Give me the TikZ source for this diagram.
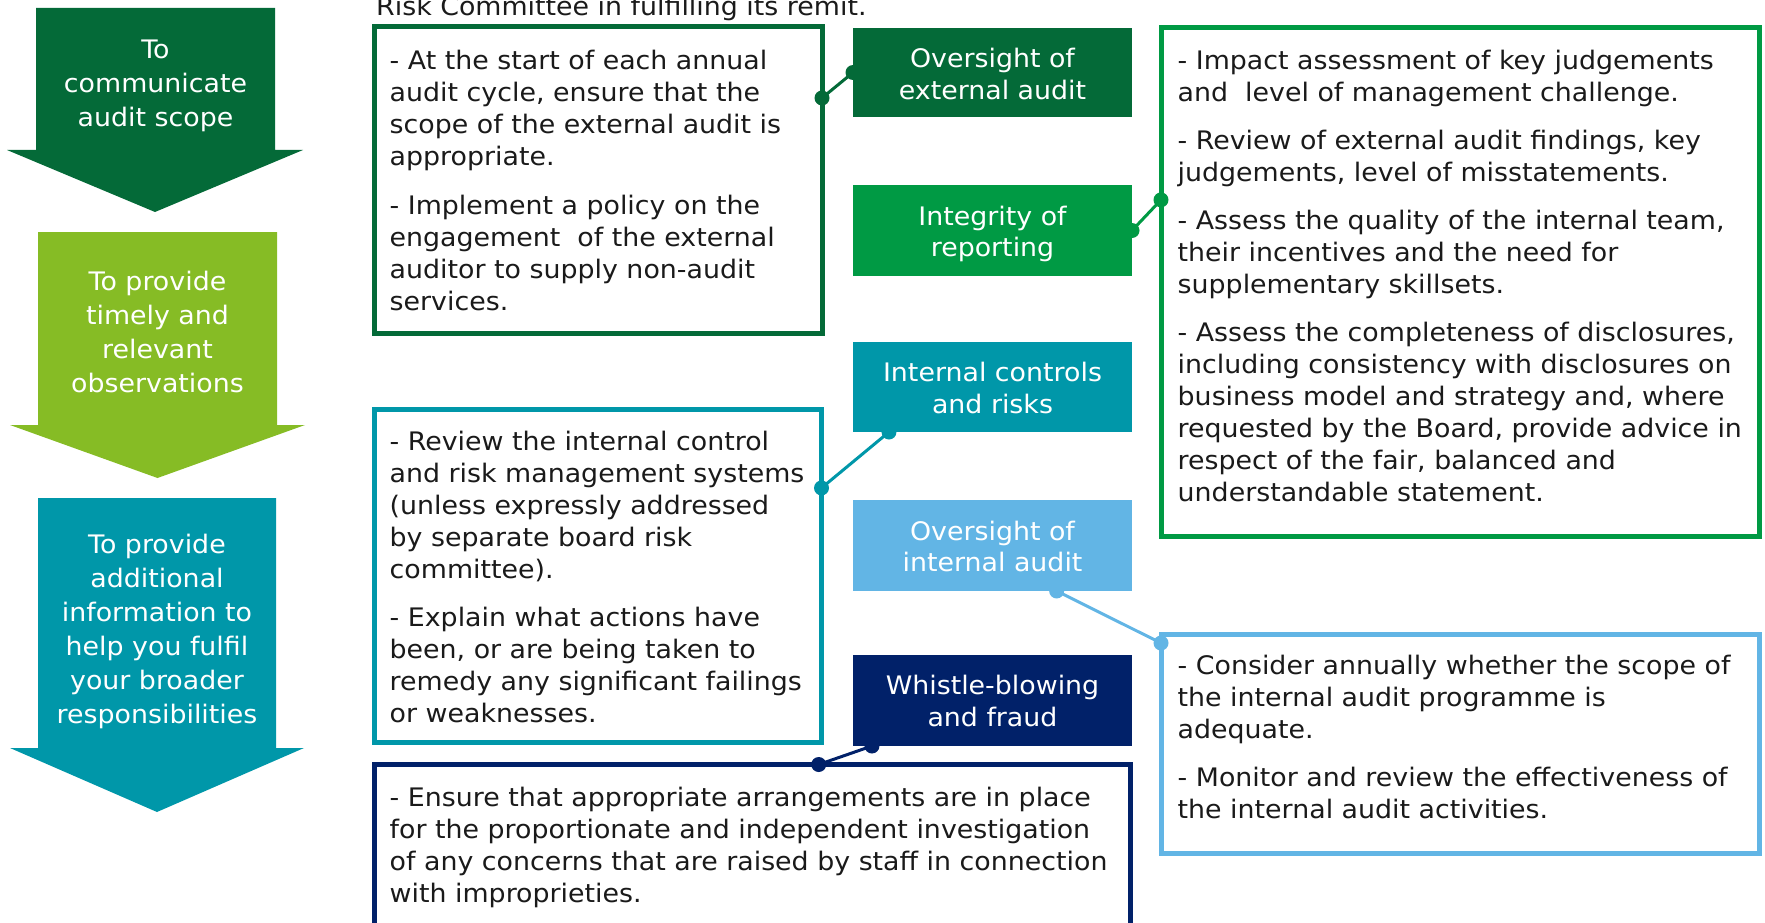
\documentclass[tikz,border=0pt]{standalone}
\usepackage{fontspec}
\setmainfont[FakeStretch=1.052]{DejaVu Sans}
\usetikzlibrary{calc}
\definecolor{dkgreen}{HTML}{046A38}
\definecolor{midgreen}{HTML}{009A44}
\definecolor{ltgreen}{HTML}{86BC25}
\definecolor{teal}{HTML}{0097A9}
\definecolor{ltblue}{HTML}{62B5E5}
\definecolor{navy}{HTML}{012169}
\definecolor{txtblack}{HTML}{1A1A1A}
\newcommand{\fl}{\rule{0pt}{20pt}}
\begin{document}
\begin{tikzpicture}[x=1pt,y=-1pt,
  frame/.style={draw, line width=5pt, fill=white, inner sep=0pt, outer sep=0pt, anchor=north west},
  tag/.style={inner sep=0pt, outer sep=0pt, anchor=north west, minimum width=279pt},
  bodytxt/.style={anchor=north west, inner sep=0pt, align=left, text=txtblack, font=\fontsize{25.5}{32}\selectfont},
  arrowtxt/.style={anchor=north, inner sep=0pt, align=center, text=white, font=\fontsize{25.5}{34}\selectfont},
  tagtxt/.style={anchor=north, inner sep=0pt, align=center, text=white, font=\fontsize{25.5}{31.5}\selectfont},
  link/.style={line width=3pt},
  dot/.style={circle, inner sep=0pt, minimum size=15pt}
]
\useasboundingbox (0,0) rectangle (1765,923);
\clip (0,0) rectangle (1765,923);

% top text (cut off)
\node[anchor=base west, inner sep=0pt, text=txtblack, font=\fontsize{25.5}{32}\selectfont] (intro) at (376,16) {Risk Committee in fulfilling its remit.};

% left arrows
\fill[dkgreen] (36,8) -- (275,8) -- (275,150) -- (303,150) -- (155,212) -- (7,150) -- (36,150) -- cycle;
\fill[ltgreen] (38,232) -- (277,232) -- (277,425) -- (305,425) -- (157.5,478) -- (10,425) -- (38,425) -- cycle;
\fill[teal] (38,498) -- (276,498) -- (276,748) -- (304,748) -- (157,812) -- (10,748) -- (38,748) -- cycle;
\node[arrowtxt] (a1) at (155.5,38.5) {\fl To\\communicate\\audit scope};
\node[arrowtxt] (a2) at (157.5,270) {\fl To provide\\timely and\\relevant\\observations};
\node[arrowtxt] (a3) at (157,533) {\fl To provide\\additional\\information to\\help you fulfil\\your broader\\responsibilities};

% frames
\node[frame, draw=dkgreen, minimum width=447.5pt, minimum height=306pt] (b1) at (374.5,27) {};
\node[frame, draw=teal, minimum width=447pt, minimum height=332.5pt] (b2) at (374.5,409.5) {};
\node[frame, draw=navy, minimum width=755.5pt, minimum height=200pt] (b3) at (374.5,764.5) {};
\node[frame, draw=midgreen, minimum width=598pt, minimum height=508.5pt] (b4) at (1161,27.5) {};
\node[frame, draw=ltblue, minimum width=598pt, minimum height=218.5pt] (b5) at (1161,634.5) {};

% tags
\node[tag, fill=dkgreen, minimum height=89pt] (t1) at (853,28) {};
\node[tag, fill=midgreen, minimum height=91pt] (t2) at (853,185) {};
\node[tag, fill=teal, minimum height=90pt] (t3) at (853,342) {};
\node[tag, fill=ltblue, minimum height=91pt] (t4) at (853,500) {};
\node[tag, fill=navy, minimum height=91pt] (t5) at (853,655) {};

% connector end points
\coordinate (c1a) at ($(b1.north east)!0.232!(b1.south east)$);
\coordinate (c1b) at (t1.west);
\coordinate (c2a) at (t2.east);
\coordinate (c2b) at ($(b4.north west)!0.339!(b4.south west)$);
\coordinate (c3a) at ($(t3.south west)!0.129!(t3.south east)$);
\coordinate (c3b) at ($(b2.north east)!0.236!(b2.south east)$);
\coordinate (c4a) at ($(t4.south west)!0.73!(t4.south east)$);
\coordinate (c4b) at ($(b5.north west)!0.039!(b5.south west)$);
\coordinate (c5a) at ($(t5.south west)!0.068!(t5.south east)$);
\coordinate (c5b) at ($(b3.north west)!0.588!(b3.north east)$);

\draw[link, dkgreen] (c1a) -- (c1b);
\draw[link, midgreen] (c2a) -- (c2b);
\draw[link, teal] (c3a) -- (c3b);
\draw[link, ltblue] (c4a) -- (c4b);
\draw[link, navy] (c5a) -- (c5b);
\foreach \p/\c in {c1a/dkgreen,c1b/dkgreen,c2a/midgreen,c2b/midgreen,c3a/teal,c3b/teal,c4a/ltblue,c4b/ltblue,c5a/navy,c5b/navy}
  \node[dot, fill=\c] (d\p) at (\p) {};

% tag texts
\node[tagtxt] (l1) at (992.5,47.5) {\fl Oversight of\\external audit};
\node[tagtxt] (l2) at (992.5,205) {\fl Integrity of\\reporting};
\node[tagtxt] (l3) at (992.5,361.5) {\fl Internal controls\\and risks};
\node[tagtxt] (l4) at (992.5,520) {\fl Oversight of\\internal audit};
\node[tagtxt] (l5) at (992.5,674.5) {\fl Whistle-blowing\\and fraud};

% body texts
\node[bodytxt] (x1) at (389.5,49) {\fl - At the start of each annual\\audit cycle, ensure that the\\scope of the external audit is\\appropriate.\\[17pt]- Implement a policy on the\\engagement\ \ of the external\\auditor to supply non-audit\\services.};
\node[bodytxt] (x2) at (389.5,430) {\fl - Review the internal control\\and risk management systems\\(unless expressly addressed\\by separate board risk\\committee).\\[16pt]- Explain what actions have\\been, or are being taken to\\remedy any significant failings\\or weaknesses.};
\node[bodytxt] (x3) at (389.5,786) {\fl - Ensure that appropriate arrangements are in place\\for the proportionate and independent investigation\\of any concerns that are raised by staff in connection\\with improprieties.};
\node[bodytxt] (x4) at (1177.5,49) {\fl - Impact assessment of key judgements\\and\ \ level of management challenge.\\[16pt]- Review of external audit findings, key\\judgements, level of misstatements.\\[16pt]- Assess the quality of the internal team,\\their incentives and the need for\\supplementary skillsets.\\[16pt]- Assess the completeness of disclosures,\\including consistency with disclosures on\\business model and strategy and, where\\requested by the Board, provide advice in\\respect of the fair, balanced and\\understandable statement.};
\node[bodytxt] (x5) at (1177.5,654) {\fl - Consider annually whether the scope of\\the internal audit programme is\\adequate.\\[16pt]- Monitor and review the effectiveness of\\the internal audit activities.};
\end{tikzpicture}
\end{document}
